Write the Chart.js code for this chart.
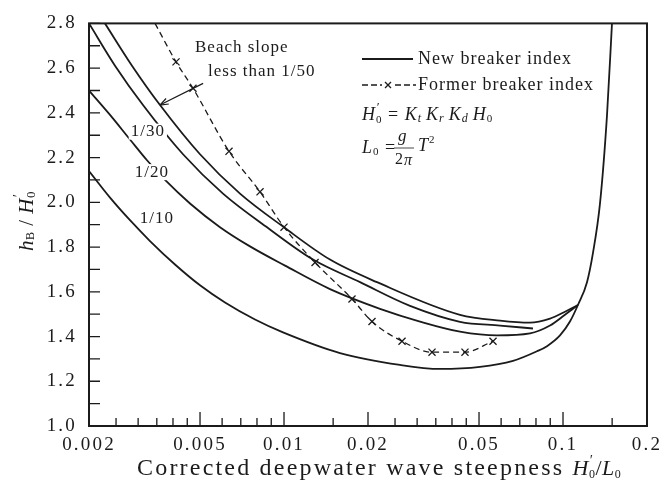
<!DOCTYPE html>
<html>
<head>
<meta charset="utf-8">
<script src="https://cdn.jsdelivr.net/npm/chart.js@4.4.0/dist/chart.umd.min.js"></script>
<style>
  html, body { margin: 0; padding: 0; background: #fff; }
</style>
</head>
<body>
<canvas id="chart" width="667" height="497"></canvas>
<script>
// breaker index curves (x = H0'/L0, y = hB/H0')
const slope50X = [0.002282, 0.002852, 0.003594, 0.005, 0.006955, 0.010084, 0.014616, 0.021542, 0.04273, 0.05945, 0.07615, 0.08983, 0.10165, 0.1131];
const slope50Y = [2.80, 2.611, 2.435, 2.215, 2.039, 1.885, 1.744, 1.643, 1.497, 1.471, 1.462, 1.480, 1.511, 1.541];

const slope30X = [0.002, 0.002479, 0.003123, 0.004345, 0.006044, 0.008763, 0.012708, 0.018726, 0.028298, 0.04273, 0.05945, 0.078054];
const slope30Y = [2.80, 2.611, 2.435, 2.215, 2.039, 1.885, 1.744, 1.643, 1.537, 1.466, 1.449, 1.436];

const slope20X = [0.002, 0.002379, 0.002805, 0.003228, 0.003746, 0.004603, 0.005897, 0.007553, 0.010084, 0.014616, 0.022082, 0.030724, 0.04273, 0.057998, 0.076146, 0.089828, 0.10165, 0.1131];
const slope20Y = [2.50, 2.391, 2.281, 2.188, 2.100, 1.995, 1.889, 1.803, 1.717, 1.612, 1.524, 1.467, 1.422, 1.405, 1.414, 1.449, 1.497, 1.541];

const slope10X = [0.002, 0.002379, 0.002805, 0.003309, 0.004067, 0.005, 0.006145, 0.007871, 0.009917, 0.015873, 0.02605, 0.03624, 0.0504, 0.06618, 0.08068, 0.08762, 0.09754, 0.1059, 0.1131, 0.1219, 0.1281, 0.1357, 0.1438, 0.1498];
const slope10Y = [2.14, 2.021, 1.920, 1.827, 1.722, 1.629, 1.552, 1.476, 1.4185, 1.326, 1.273, 1.255, 1.264, 1.291, 1.334, 1.357, 1.405, 1.467, 1.541, 1.643, 1.775, 1.995, 2.391, 2.80];

// former breaker index (dashed, x markers)
const formerX = [0.003449, 0.004101, 0.004718, 0.006351, 0.008204, 0.01, 0.01292, 0.017526, 0.020672, 0.026484, 0.03392, 0.044528, 0.05612];
const formerY = [2.80, 2.628, 2.51, 2.228, 2.047, 1.889, 1.731, 1.568, 1.467, 1.379, 1.330, 1.330, 1.379];

// axis ticks
const xTickValues = [0.002, 0.0025, 0.003, 0.0035, 0.004, 0.0045, 0.005, 0.006, 0.007, 0.008, 0.009,
  0.01, 0.015, 0.02, 0.025, 0.03, 0.035, 0.04, 0.045, 0.05, 0.06, 0.07, 0.08, 0.09, 0.1, 0.15, 0.2];
const xLabelValues = [0.002, 0.005, 0.01, 0.02, 0.05, 0.1, 0.2];

// curve labels (text, x, y)
const curveLabels = [
  ['1/30', 0.00325, 2.316],
  ['1/20', 0.00336, 2.135],
  ['1/10', 0.0035, 1.929]
];

const SERIF = '"Liberation Serif", "DejaVu Serif", serif';
const ink = '#1b1b1b';

function toPoints(xs, ys) {
  return xs.map((x, i) => ({ x: x, y: ys[i] }));
}

function solidCurve(xs, ys) {
  return {
    data: toPoints(xs, ys),
    showLine: true,
    borderColor: ink,
    borderWidth: 1.8,
    pointRadius: 0,
    cubicInterpolationMode: 'monotone'
  };
}

function setSpacing(ctx, v) {
  if ('letterSpacing' in ctx) ctx.letterSpacing = v;
}

// draw a run of text pieces: {t, font, dy, stack, ls}
function drawRich(ctx, x, y, parts, measureOnly) {
  let cx = x;
  parts.forEach(p => {
    ctx.font = p.font;
    if (p.ls !== undefined) setSpacing(ctx, p.ls);
    const w = ctx.measureText(p.t).width;
    if (!measureOnly) ctx.fillText(p.t, cx, y + (p.dy || 0));
    if (!p.stack) cx += w;
  });
  return cx - x;
}

const it = s => 'italic ' + s + 'px ' + SERIF;
const rm = s => s + 'px ' + SERIF;

const decorations = {
  id: 'decorations',
  beforeDraw(chart) {
    // wider tracking for the tick labels, like the printed figure
    setSpacing(chart.ctx, '2.2px');
  },
  afterDatasetsDraw(chart) {
    const { ctx, scales: { x, y } } = chart;
    ctx.save();
    ctx.fillStyle = ink;
    ctx.strokeStyle = ink;
    ctx.textBaseline = 'middle';
    ctx.textAlign = 'left';
    setSpacing(ctx, '1px');

    // slope labels sitting in gaps of the curves
    ctx.font = rm(17);
    curveLabels.forEach(([t, vx, vy]) => {
      const px = x.getPixelForValue(vx);
      const py = y.getPixelForValue(vy);
      const w = ctx.measureText(t).width;
      ctx.fillStyle = '#fff';
      ctx.fillRect(px - w / 2 - 2, py - 8, w + 4, 16);
      ctx.fillStyle = ink;
      ctx.textAlign = 'center';
      ctx.fillText(t, px, py);
    });

    // beach slope note + arrow
    ctx.textAlign = 'left';
    ctx.font = rm(17);
    ctx.fillText('Beach slope', 195, 48);
    ctx.fillText('less than 1/50', 208, 72);
    const ax0 = x.getPixelForValue(0.00513), ay0 = y.getPixelForValue(2.532);
    const ax1 = x.getPixelForValue(0.00359), ay1 = y.getPixelForValue(2.435);
    ctx.lineWidth = 1.2;
    ctx.beginPath();
    ctx.moveTo(ax0, ay0);
    ctx.lineTo(ax1, ay1);
    ctx.stroke();
    const ang = Math.atan2(ay1 - ay0, ax1 - ax0);
    ctx.beginPath();
    ctx.moveTo(ax1, ay1);
    ctx.lineTo(ax1 - 9 * Math.cos(ang - 0.35), ay1 - 9 * Math.sin(ang - 0.35));
    ctx.moveTo(ax1, ay1);
    ctx.lineTo(ax1 - 9 * Math.cos(ang + 0.35), ay1 - 9 * Math.sin(ang + 0.35));
    ctx.stroke();

    // legend
    ctx.lineWidth = 1.8;
    ctx.beginPath();
    ctx.moveTo(362, 59);
    ctx.lineTo(413, 59);
    ctx.stroke();
    ctx.font = rm(18);
    ctx.fillText('New breaker index', 418, 59);

    ctx.lineWidth = 1.3;
    ctx.setLineDash([6, 3]);
    ctx.beginPath();
    ctx.moveTo(362, 85); ctx.lineTo(382, 85);
    ctx.moveTo(395, 85); ctx.lineTo(416, 85);
    ctx.stroke();
    ctx.setLineDash([]);
    ctx.beginPath();
    ctx.moveTo(385, 82); ctx.lineTo(391, 88);
    ctx.moveTo(391, 82); ctx.lineTo(385, 88);
    ctx.stroke();
    ctx.fillText('Former breaker index', 418, 85);

    // formulas
    setSpacing(ctx, '1px');
    drawRich(ctx, 362, 115, [
      { t: 'H', font: it(18) },
      { t: '′', font: it(13), dy: -7, stack: true },
      { t: '0', font: rm(11), dy: 5 },
      { t: ' = ', font: rm(18) },
      { t: 'K', font: it(18) }, { t: 't ', font: it(12), dy: 4 },
      { t: 'K', font: it(18) }, { t: 'r ', font: it(12), dy: 4 },
      { t: 'K', font: it(18) }, { t: 'd ', font: it(12), dy: 4 },
      { t: 'H', font: it(18) }, { t: '0', font: rm(11), dy: 4 }
    ]);
    drawRich(ctx, 362, 148, [
      { t: 'L', font: it(18) }, { t: '0', font: rm(11), dy: 4 },
      { t: ' =', font: rm(18) }
    ]);
    ctx.font = it(17);
    ctx.fillText('g', 398, 137);
    ctx.font = rm(16);
    ctx.fillText('2', 395, 160);
    ctx.font = it(16);
    ctx.fillText('π', 404, 161);
    ctx.lineWidth = 0.8;
    ctx.beginPath();
    ctx.moveTo(394, 148); ctx.lineTo(414, 148);
    ctx.stroke();
    drawRich(ctx, 418, 146, [
      { t: 'T', font: it(18) }, { t: '2', font: rm(11), dy: -6 }
    ]);

    ctx.restore();
  },
  afterDraw(chart) {
    const { ctx, chartArea: a, scales: { x, y } } = chart;
    ctx.save();
    ctx.strokeStyle = ink;
    ctx.fillStyle = ink;
    // inward ticks
    ctx.lineWidth = 1.3;
    ctx.beginPath();
    x.ticks.forEach(t => {
      const px = x.getPixelForValue(t.value);
      const len = xLabelValues.includes(t.value) ? 14 : 8;
      ctx.moveTo(px, a.bottom);
      ctx.lineTo(px, a.bottom - len);
    });
    y.ticks.forEach(t => {
      const py = y.getPixelForValue(t.value);
      ctx.moveTo(a.left, py);
      ctx.lineTo(a.left + 11, py);
    });
    ctx.stroke();
    // frame
    ctx.lineWidth = 2;
    ctx.strokeRect(a.left, a.top, a.right - a.left, a.bottom - a.top);

    // axis titles
    ctx.textBaseline = 'middle';
    ctx.textAlign = 'left';
    drawRich(ctx, 137, 469, [
      { t: 'Corrected deepwater wave steepness ', font: rm(24), ls: '2.2px' },
      { t: 'H', font: it(22), ls: '0.5px' },
      { t: '′', font: it(14), dy: -8, stack: true },
      { t: '0', font: rm(12), dy: 6 },
      { t: '/', font: rm(22) },
      { t: 'L', font: it(22) },
      { t: '0', font: rm(12), dy: 6 }
    ]);

    ctx.translate(27, 221);
    ctx.rotate(-Math.PI / 2);
    setSpacing(ctx, '0.5px');
    const yt = [
      { t: 'h', font: it(21) },
      { t: 'B', font: rm(12), dy: 4 },
      { t: ' / ', font: rm(21) },
      { t: 'H', font: it(21) },
      { t: '′', font: it(14), dy: -8, stack: true },
      { t: '0', font: rm(13), dy: 5 }
    ];
    const yw = drawRich(ctx, 0, 0, yt, true);
    drawRich(ctx, -yw / 2, 0, yt);
    ctx.restore();
    setSpacing(ctx, '0px');
  }
};

const ctx = document.getElementById('chart').getContext('2d');

const chart = new Chart(ctx, {
  type: 'scatter',
  data: {
    datasets: [
      solidCurve(slope50X, slope50Y),
      solidCurve(slope30X, slope30Y),
      solidCurve(slope20X, slope20Y),
      solidCurve(slope10X, slope10Y),
      {
        data: toPoints(formerX, formerY),
        showLine: true,
        borderColor: ink,
        borderWidth: 1.3,
        borderDash: [6, 4],
        cubicInterpolationMode: 'monotone',
        pointStyle: 'crossRot',
        pointRadius: formerX.map((v, i) => (i === 0 ? 0 : 5)),
        pointBorderColor: ink,
        pointBorderWidth: 1.3
      }
    ]
  },
  options: {
    responsive: false,
    animation: false,
    devicePixelRatio: 1,
    layout: { padding: { top: 17, right: 20, left: 0, bottom: 0 } },
    plugins: {
      legend: { display: false },
      tooltip: { enabled: false }
    },
    scales: {
      x: {
        type: 'logarithmic',
        min: 0.002,
        max: 0.2,
        grid: { display: false, drawTicks: false },
        border: { display: false },
        afterBuildTicks: (scale) => {
          scale.ticks = xTickValues.map(v => ({ value: v }));
        },
        afterFit: (scale) => { scale.height = 71; },
        ticks: {
          autoSkip: false,
          maxRotation: 0,
          padding: 8,
          color: ink,
          font: { family: SERIF, size: 19 },
          callback: (v) => (xLabelValues.includes(v) ? String(v) : '')
        }
      },
      y: {
        type: 'linear',
        min: 1.0,
        max: 2.8,
        grid: { display: false, drawTicks: false },
        border: { display: false },
        afterFit: (scale) => { scale.width = 89; },
        ticks: {
          stepSize: 0.1,
          autoSkip: false,
          padding: 12,
          color: ink,
          font: { family: SERIF, size: 19 },
          callback: (v) => (Math.round(v * 10) % 2 === 0 ? v.toFixed(1) : '')
        }
      }
    }
  },
  plugins: [decorations]
});
</script>
</body>
</html>
